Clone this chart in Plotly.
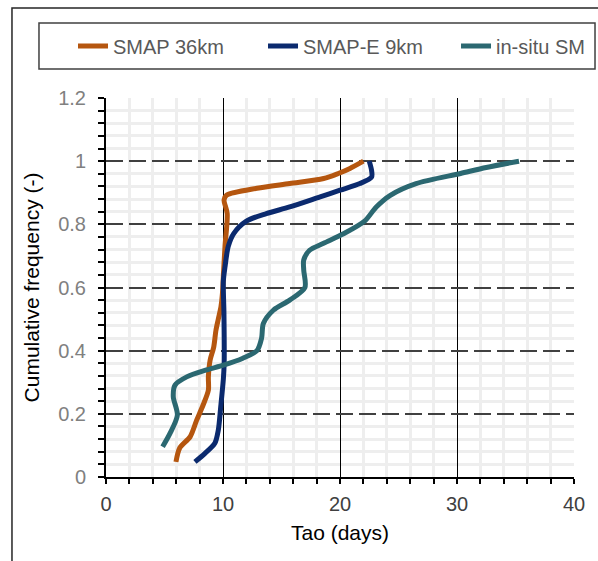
import plotly.graph_objects as go

# ---- data ----
smap36_tao = [5.98, 6.3, 7.2, 7.75, 8.3, 8.75, 8.75, 8.9, 9.2, 9.4, 9.6, 9.83, 9.95, 10.05, 10.17, 10.36, 10.09, 10.3, 12.9, 15.7, 18.6, 19.85, 20.85, 22.0]
smap36_cf = [0.048, 0.092, 0.128, 0.18, 0.228, 0.275, 0.317, 0.37, 0.41, 0.465, 0.50, 0.54, 0.58, 0.65, 0.73, 0.834, 0.877, 0.892, 0.914, 0.929, 0.945, 0.961, 0.977, 1.0]

smape9_tao = [7.6, 8.46, 9.3, 9.6, 9.8, 10.03, 10.1, 10.08, 10.03, 10.17, 10.45, 10.9, 12.0, 13.7, 15.7, 18.3, 20.0, 21.7, 22.7, 22.7, 22.5]
smape9_cf = [0.048, 0.075, 0.107, 0.149, 0.22, 0.31, 0.36, 0.52, 0.62, 0.665, 0.73, 0.77, 0.81, 0.834, 0.855, 0.887, 0.908, 0.929, 0.95, 0.97, 1.0]

insitu_tao = [4.84, 5.47, 6.1, 5.75, 5.9, 6.9, 8.6, 10.03, 11.7, 12.9, 13.3, 13.45, 14.3, 15.7, 17.0, 16.9, 16.9, 17.4, 18.6, 20.3, 22.1, 23.1, 24.3, 26.5, 30.3, 32.5, 35.3]
insitu_cf = [0.096, 0.138, 0.196, 0.254, 0.291, 0.317, 0.339, 0.354, 0.376, 0.40, 0.44, 0.486, 0.528, 0.56, 0.60, 0.655, 0.687, 0.718, 0.74, 0.77, 0.81, 0.855, 0.892, 0.929, 0.961, 0.98, 1.0]

series_names = ["SMAP 36km", "SMAP-E 9km", "in-situ SM"]
series_colors = ["#B5560F", "#0B2A6E", "#2B6871"]
legend_ids = ["legend", "legend2", "legend3"]
legend_x = [-0.0705, 0.3355, 0.7479]

FONT = "Liberation Sans, Arial, sans-serif"
TXT_GRAY = "#595959"

fig = go.Figure()
for name, xs, ys, col, lg in zip(series_names,
                                 [smap36_tao, smape9_tao, insitu_tao],
                                 [smap36_cf, smape9_cf, insitu_cf],
                                 series_colors, legend_ids):
    fig.add_trace(go.Scatter(x=xs, y=ys, mode="lines", name=name, legend=lg,
                             line=dict(color=col, width=5, shape="spline", smoothing=0.8)))

legend_common = dict(orientation="h", yanchor="middle", xanchor="left", y=1.1372,
                     borderwidth=0, bgcolor="rgba(0,0,0,0)",
                     font=dict(family=FONT, size=20, color=TXT_GRAY))

fig.update_layout(
    width=598, height=561,
    margin=dict(l=106, r=24, t=98, b=84, autoexpand=False),
    paper_bgcolor="white", plot_bgcolor="white",
    font=dict(family=FONT, size=20, color=TXT_GRAY),
    showlegend=True,
    legend=dict(x=legend_x[0], **legend_common),
    legend2=dict(x=legend_x[1], **legend_common),
    legend3=dict(x=legend_x[2], **legend_common),
    xaxis=dict(range=[0, 40], dtick=10, tick0=0, automargin=False,
               showgrid=True, gridcolor="#000000", gridwidth=1,
               showline=True, linecolor="black", linewidth=2,
               ticks="outside", ticklen=5, tickwidth=2, tickcolor="black",
               tickfont=dict(family=FONT, size=20, color="#404040"),
               ticklabelstandoff=3,
               zeroline=False,
               minor=dict(dtick=2, showgrid=True, gridcolor="#EEEEEE", gridwidth=2.5, griddash="solid",
                          ticks="outside", ticklen=5, tickwidth=2, tickcolor="black"),
               title=dict(text="Tao (days)", font=dict(family=FONT, size=21, color="#000000"), standoff=11)),
    yaxis=dict(range=[0, 1.2], dtick=0.2, tick0=0, automargin=False,
               showgrid=True, gridcolor="#404040", gridwidth=1.5, griddash="17px,6px",
               showline=True, linecolor="black", linewidth=2,
               ticks="outside", ticklen=6, tickwidth=2, tickcolor="black",
               tickfont=dict(family=FONT, size=20, color="#808080"),
               ticklabelstandoff=8,
               tickformat="~g",
               zeroline=False,
               minor=dict(dtick=0.04, showgrid=True, gridcolor="#EEEEEE", gridwidth=2.5, griddash="solid",
                          ticks="outside", ticklen=6, tickwidth=2, tickcolor="black"),
               title=dict(text="Cumulative frequency (-)", font=dict(family=FONT, size=21, color="#000000"), standoff=13)),
)

# outer chart frame
fig.add_shape(type="rect", xref="paper", yref="paper",
              x0=-0.2009, x1=1.08, y0=-0.4, y1=1.2375,
              line=dict(color="#262626", width=1.5), layer="below")
# legend box
fig.add_shape(type="rect", xref="paper", yref="paper",
              x0=-0.1432, x1=1.0449, y0=1.0765, y1=1.1979,
              line=dict(color="#404040", width=1.5), fillcolor="rgba(0,0,0,0)", layer="above")

fig.write_html("out.html")
